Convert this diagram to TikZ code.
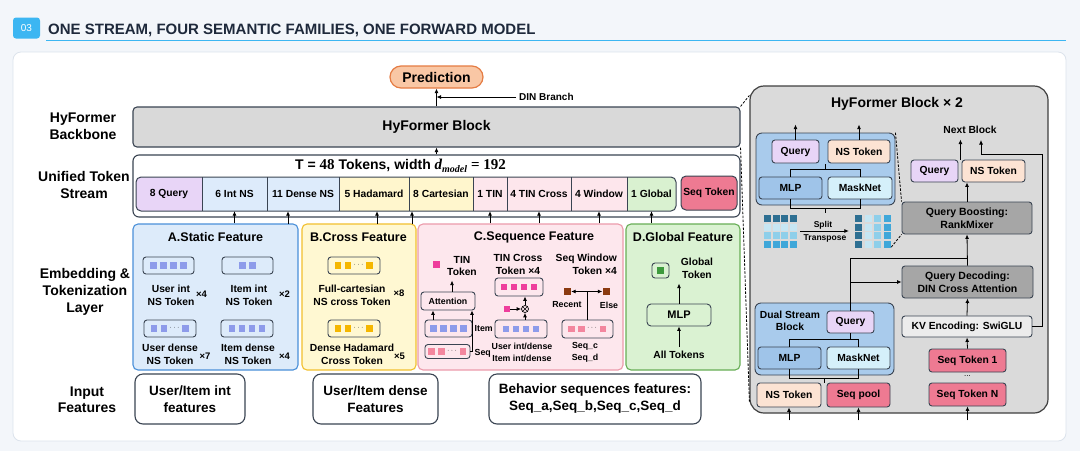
\documentclass[tikz,border=0pt]{standalone}
\usepackage[no-math]{fontspec}
\setmainfont{Liberation Sans}
\newfontfamily\srf{Liberation Serif}
\usetikzlibrary{arrows.meta,calc}
\definecolor{pagebg}{HTML}{F3F6FA}
\definecolor{panelbd}{HTML}{DCE3EC}
\definecolor{badge}{HTML}{3CB6F2}
\definecolor{ttlc}{HTML}{1E293B}
\definecolor{bd}{HTML}{3A4452}
\definecolor{predf}{HTML}{F9C7A5}
\definecolor{predd}{HTML}{E57C43}
\definecolor{gr}{HTML}{D9D9D9}
\definecolor{cq}{HTML}{E8D5F7}
\definecolor{cns}{HTML}{DDEBFB}
\definecolor{ccr}{HTML}{FFF6CD}
\definecolor{cseq}{HTML}{FDE6EC}
\definecolor{cgl}{HTML}{D9F1D0}
\definecolor{seqc}{HTML}{EE7A92}
\definecolor{faf}{HTML}{DDEBFA}
\definecolor{fad}{HTML}{4A90D9}
\definecolor{fbf}{HTML}{FFF8D2}
\definecolor{fbd}{HTML}{F2C02E}
\definecolor{fcf}{HTML}{FDE7ED}
\definecolor{fcd}{HTML}{EC9BAB}
\definecolor{fdf}{HTML}{DAF2D2}
\definecolor{fdd}{HTML}{67AE56}
\definecolor{blu}{HTML}{8D9BEA}
\definecolor{yel}{HTML}{F5B700}
\definecolor{mag}{HTML}{EE3D9C}
\definecolor{pnk}{HTML}{F3869E}
\definecolor{brn}{HTML}{8B3A10}
\definecolor{grn}{HTML}{3D9A3D}
\definecolor{rpf}{HTML}{DADADA}
\definecolor{rpd}{HTML}{404040}
\definecolor{bbf}{HTML}{A9CBEC}
\definecolor{mlpf}{HTML}{9FC4E9}
\definecolor{mskf}{HTML}{D5F0FA}
\definecolor{nsf}{HTML}{FCE3D3}
\definecolor{qbf}{HTML}{A6A6A6}
\definecolor{kvf}{HTML}{ECECEC}
\definecolor{mA}{HTML}{2D6F92}
\definecolor{mB}{HTML}{C6E6F3}
\definecolor{mC}{HTML}{8ECFEA}
\definecolor{mD}{HTML}{3FA7D9}
\newcommand\sqrow[4]{%
  \foreach \i in {1,...,#3} {\fill[#4] ({#1+(\i-(#3+1)/2)*10-3.25},{#2-3.25}) rectangle ++(6.5,6.5);}}
\newcommand\sqdots[3]{%
  \fill[#3] ({#1-19.5},{#2-3.25}) rectangle ++(6.5,6.5);
  \fill[#3] ({#1-9.5},{#2-3.25}) rectangle ++(6.5,6.5);
  \node[inner sep=0pt, font=\fontsize{7}{7}\selectfont] at ({#1+4.5},{#2-1}) {$\cdots$};
  \fill[#3] ({#1+12},{#2-3.25}) rectangle ++(6.5,6.5);}
\tikzset{
 bx/.style={draw=bd, line width=0.9pt, rounded corners=3pt, inner sep=0pt, align=center, font=\bfseries\fontsize{10.3}{12.5}\selectfont},
 arr/.style={-{Latex[length=4.5pt,width=4pt]}, line width=0.8pt},
 ln/.style={line width=0.8pt},
 lbl/.style={font=\bfseries\fontsize{14}{17}\selectfont, align=center, inner sep=0pt},
 tx/.style={font=\bfseries\fontsize{10.3}{13}\selectfont, align=center, inner sep=0pt},
 ts/.style={font=\bfseries\fontsize{8.8}{12}\selectfont, align=center, inner sep=0pt},
 mul/.style={font=\bfseries\fontsize{9.5}{10}\selectfont, inner sep=0pt},
 fbox/.style={line width=1.1pt, rounded corners=5pt, inner sep=0pt},
 cell/.style={inner sep=0pt, minimum height=34pt, font=\bfseries\fontsize{10.3}{12}\selectfont},
 dsh/.style={line width=0.8pt, dash pattern=on 2.5pt off 1.5pt},
}
\begin{document}
\begin{tikzpicture}[x=1pt,y=-1pt]
\useasboundingbox (0,0) rectangle (1080,451);
\fill[pagebg] (0,0) rectangle (1080,451);
% header
\node[fill=badge, rounded corners=3pt, minimum width=27pt, minimum height=21pt, inner sep=0pt, text=white, font=\fontsize{10}{11}\selectfont] (badge) at (26.5,28) {03};
\node[anchor=west, inner sep=0pt, text=ttlc, font=\bfseries\fontsize{15}{17}\selectfont] (title) at (48,30) {ONE STREAM, FOUR SEMANTIC FAMILIES, ONE FORWARD MODEL};
\draw[badge, line width=1.6pt] (46,40.5) -- (1066,40.5);
\fill[white, draw=panelbd, line width=0.8pt, rounded corners=8pt] (13,52) rectangle (1066,441);
% left labels
\node[lbl] (lbB) at (83,126) {HyFormer\\Backbone};
\node[lbl] (lbS) at (84,185) {Unified Token\\Stream};
\node[lbl] (lbE) at (85,292) {Embedding \&\\Tokenization\\Layer};
\node[lbl, font=\bfseries\fontsize{14}{16}\selectfont] (lbI) at (87,400) {Input\\Features};
% prediction & block
\node[bx, rounded corners=11pt, fill=predf, draw=predd, line width=1.2pt, minimum width=93pt, minimum height=22pt, font=\bfseries\fontsize{14}{16}\selectfont] (pred) at (436.5,77) {Prediction};
\node[bx, fill=gr, minimum width=607pt, minimum height=40pt, line width=1.1pt, rounded corners=4pt, font=\bfseries\fontsize{14}{16}\selectfont] (hyb) at (436.5,127) {HyFormer Block};
\draw[arr] (hyb.north) -- (pred.south);
\coordinate (dinS) at (516,97);
\draw[arr] (dinS) -- (dinS -| pred);
\node[anchor=west, inner sep=0pt, font=\bfseries\fontsize{10}{11}\selectfont] (dinL) at (519,97) {DIN Branch};
% token stream
\node[bx, fill=white, minimum width=607pt, minimum height=62pt, line width=1.1pt, rounded corners=6pt] (str) at (436.5,186) {};
\draw[arr] (str.north) -- (hyb.south);
\node[inner sep=0pt, font=\bfseries\fontsize{14}{16}\selectfont] (strT) at (400.5,166) {T = {\srf\fontsize{15}{16}\selectfont 48} Tokens, width {\srf\itshape\fontsize{15}{16}\selectfont d}\raisebox{-3pt}{\srf\itshape\fontsize{10}{11}\selectfont model} {\srf\fontsize{15}{16}\selectfont = 192}};
\begin{scope}
\clip[rounded corners=5pt] (136,177) rectangle (676,211);
\node[cell, fill=cq, minimum width=66pt] (cQuery) at (169,194) {8 Query};
\node[cell, fill=cns, minimum width=65pt] (cInt) at (234.5,194) {6 Int NS};
\node[cell, fill=cns, minimum width=72pt] (cDense) at (303,194) {11 Dense NS};
\node[cell, fill=ccr, minimum width=70pt] (cHad) at (374,194) {5 Hadamard};
\node[cell, fill=ccr, minimum width=64pt] (cCart) at (441,194) {8 Cartesian};
\node[cell, fill=cseq, minimum width=34pt] (cTIN) at (490,194) {1 TIN};
\node[cell, fill=cseq, minimum width=64pt] (cTINX) at (539,194) {4 TIN Cross};
\node[cell, fill=cseq, minimum width=56pt] (cWin) at (599,194) {4 Window};
\node[cell, fill=cgl, minimum width=49pt] (cGlob) at (651.5,194) {1 Global};
\end{scope}
\draw[line width=1pt, bd, rounded corners=5pt] (136,177) rectangle (676,211);
\foreach \x in {202,267,339,409,473,507,571,627} \draw[line width=1pt, bd] (\x,177) -- (\x,211);
\node[bx, fill=seqc, minimum width=56pt, minimum height=34pt, rounded corners=5pt, line width=1pt] (seqT) at (709,193) {Seq Token};
% feature boxes
\node[fbox, draw=fad, fill=faf, minimum width=165pt, minimum height=146pt] (fA) at (215.5,297) {};
\node[fbox, draw=fbd, fill=fbf, minimum width=114pt, minimum height=146pt] (fB) at (359,297) {};
\node[fbox, draw=fcd, fill=fcf, minimum width=205pt, minimum height=146pt] (fC) at (520.5,297) {};
\node[fbox, draw=fdd, fill=fdf, minimum width=114pt, minimum height=146pt] (fD) at (683,297) {};
\draw[arr] (fA.north -| cInt) -- (cInt.south);
\coordinate (aD) at (288,224); \draw[arr] (aD) -- (aD |- cDense.south);
\coordinate (aH) at (377,224); \draw[arr] (aH) -- (aH |- cHad.south);
\coordinate (aC) at (412,224); \draw[arr] (aC) -- (aC |- cCart.south);
\draw[arr] (fC.north -| cTIN) -- (cTIN.south);
\draw[arr] (fC.north -| cTINX) -- (cTINX.south);
\draw[arr] (fC.north -| cWin) -- (cWin.south);
\draw[arr] (fD.north -| cGlob) -- (cGlob.south);
\node[inner sep=0pt, font=\bfseries\fontsize{12.5}{14}\selectfont] (tA) at (215.5,237) {A.Static Feature};
\node[inner sep=0pt, font=\bfseries\fontsize{12.5}{14}\selectfont] (tB) at (358.5,237) {B.Cross Feature};
\node[inner sep=0pt, font=\bfseries\fontsize{12.5}{14}\selectfont] (tC) at (534,237) {C.Sequence Feature};
\node[inner sep=0pt, font=\bfseries\fontsize{12.5}{14}\selectfont] (tD) at (683,237) {D.Global Feature};
% A
\node[bx, fill=faf, minimum width=51pt, minimum height=17pt] (bA1) at (168.5,265.5) {}; \sqrow{168.5}{265.5}{4}{blu}
\node[bx, fill=faf, minimum width=51pt, minimum height=17pt] (bA2) at (247.5,265.5) {}; \sqrow{247.5}{265.5}{2}{blu}
\node[bx, fill=faf, minimum width=52pt, minimum height=17pt] (bA3) at (170,328.5) {}; \sqdots{170}{328.5}{blu}
\node[bx, fill=faf, minimum width=52pt, minimum height=17pt] (bA4) at (247,328.5) {}; \sqrow{247}{328.5}{4}{blu}
\node[tx] (lA1) at (171,295) {User int\\NS Token};
\node[mul] (xA1) at (201.5,294) {×4};
\node[tx] (lA2) at (249,295) {Item int\\NS Token};
\node[mul] (xA2) at (284.5,294) {×2};
\node[tx] (lA3) at (170,354) {User dense\\NS Token};
\node[mul] (xA3) at (205,356) {×7};
\node[tx] (lA4) at (248,354) {Item dense\\NS Token};
\node[mul] (xA4) at (284.5,356) {×4};
% B
\node[bx, fill=fbf, minimum width=52pt, minimum height=17pt] (bB1) at (354,265.5) {}; \sqdots{354}{265.5}{yel}
\node[bx, fill=fbf, minimum width=52pt, minimum height=17pt] (bB2) at (354,328.5) {}; \sqdots{354}{328.5}{yel}
\node[tx] (lB1) at (352,295) {Full-cartesian\\NS cross Token};
\node[mul] (xB1) at (399,293) {×8};
\node[tx] (lB2) at (352,354) {Dense Hadamard\\Cross Token};
\node[mul] (xB2) at (399.5,356) {×5};
% C
\node[fill=mag, minimum size=7pt, inner sep=0pt] (tinSq) at (436,264.5) {};
\node[tx] (tinL) at (462,266) {TIN\\Token};
\node[bx, fill=fcf, minimum width=54pt, minimum height=18pt, font=\bfseries\fontsize{8.8}{10}\selectfont] (attn) at (448,301) {Attention};
\draw[arr] ([xshift=4pt]attn.north) -- ++(0,-11);
\node[bx, fill=fcf, minimum width=47pt, minimum height=17pt] (bItem) at (448.5,328.5) {}; \sqrow{448.5}{328.5}{4}{blu}
\node[ts, anchor=west] (lItem) at (474.5,328.5) {Item};
\node[bx, fill=fcf, minimum width=45pt, minimum height=14pt] (bSeq) at (447.5,351.5) {}; \sqdots{447.5}{351.5}{pnk}
\node[ts, anchor=west] (lSeq) at (474.5,353) {Seq};
\draw[arr] ([xshift=-15.5pt]bItem.north) -- ([xshift=-15.5pt]bItem.north |- attn.south);
\draw[arr] (bSeq.east) -| ([xshift=24pt]attn.south);
\node[tx] (txL) at (518,264.5) {TIN Cross\\Token ×4};
\node[bx, fill=fcf, minimum width=48pt, minimum height=18pt] (bTX) at (519,287) {}; \sqrow{519}{287}{4}{mag}
\node[circle, draw, line width=0.7pt, minimum size=7pt, inner sep=0pt] (ot) at (525,309) {};
\draw[line width=0.6pt] (ot.north west) -- (ot.south east) (ot.north east) -- (ot.south west);
\node[fill=mag, minimum size=6.5pt, inner sep=0pt] (mSq) at (507,309) {};
\draw[arr] (mSq) -- (ot);
\draw[arr] (ot) -- (ot |- bTX.south);
\node[bx, fill=fcf, minimum width=52pt, minimum height=18pt] (bUI) at (521,329) {}; \sqrow{521}{329}{4}{blu}
\draw[arr] (bUI.north -| ot) -- (ot.south);
\node[ts] (uiL) at (522,352) {User int/dense\\Item int/dense};
\node[tx, align=right, anchor=east] (swL) at (617,264.5) {Seq Window\\Token ×4};
\node[fill=brn, minimum size=7pt, inner sep=0pt] (brL) at (567.5,291.5) {};
\node[fill=brn, minimum size=7pt, inner sep=0pt] (brR) at (606,291.5) {};
\node[bx, fill=fcf, minimum width=51pt, minimum height=18pt] (bSW) at (587.5,329) {}; \sqdots{587.5}{329}{pnk}
\coordinate (jn) at (bSW.north |- brL);
\draw[ln] (bSW.north) -- (jn);
\draw[arr] (jn) -- (brL); \draw[arr] (jn) -- (brR);
\node[ts] (rcL) at (567,305) {Recent};
\node[ts] (elL) at (609,305) {Else};
\node[ts] (scL) at (585,352) {Seq\_c\\Seq\_d};
% D
\node[bx, fill=fdf, minimum width=17pt, minimum height=15pt] (gI) at (660.5,270.5) {};
\node[fill=grn, minimum size=7pt, inner sep=0pt] (gSq) at (gI) {};
\node[tx] (gL) at (697,268) {Global\\Token};
\node[bx, fill=fdf, minimum width=64pt, minimum height=22pt, rounded corners=4pt, font=\bfseries\fontsize{11}{12}\selectfont] (mlpD) at (679,315) {MLP};
\draw[arr] (mlpD.north) -- ++(0,-20);
\node[tx] (allT) at (679,355) {All Tokens};
\draw[arr] ([yshift=4pt]allT.north) -- (mlpD.south);
% input features
\node[bx, fill=white, minimum width=110pt, minimum height=50pt, rounded corners=8pt, line width=1.1pt, font=\bfseries\fontsize{13.5}{17}\selectfont] (in1) at (190,399) {User/Item int\\features};
\node[bx, fill=white, minimum width=125pt, minimum height=50pt, rounded corners=8pt, line width=1.1pt, font=\bfseries\fontsize{13.5}{17}\selectfont] (in2) at (375.5,399) {User/Item dense\\Features};
\node[bx, fill=white, minimum width=212pt, minimum height=50pt, rounded corners=8pt, line width=1.1pt, font=\bfseries\fontsize{13.5}{17}\selectfont] (in3) at (595,399) {Behavior sequences features:\\Seq\_a,Seq\_b,Seq\_c,Seq\_d};
% right panel
\node[draw=rpd, fill=rpf, line width=1.2pt, rounded corners=14pt, minimum width=298pt, minimum height=327pt, inner sep=0pt] (rp) at (899,249.5) {};
\draw[dsh] (hyb.north east) -- ([yshift=-10pt]rp.north west);
\draw[dsh] (hyb.south east) -- ([yshift=12pt]rp.south west);
\node[inner sep=0pt, font=\bfseries\fontsize{14}{16}\selectfont] (rpT) at (897,104) {HyFormer Block × 2};
% top blue box
\node[bx, fill=bbf, minimum width=139pt, minimum height=72pt, rounded corners=6pt] (bb1) at (825.5,169) {};
\node[bx, fill=cq, minimum width=47pt, minimum height=23pt] (q1) at (795.5,151.5) {Query};
\node[bx, fill=nsf, minimum width=62pt, minimum height=23pt] (ns1) at (859,151.5) {NS Token};
\node[bx, fill=mlpf, minimum width=63pt, minimum height=22pt] (mlp1) at (790.5,188) {MLP};
\node[bx, fill=mskf, minimum width=64pt, minimum height=22pt] (mk1) at (860,188) {MaskNet};
\draw[arr] (q1.north) -- ++(0,-15);
\draw[arr] (ns1.north) -- ++(0,-15);
\draw[ln] (mlp1.north) -- ++(0,-7) -| (mk1.north);
\draw[ln] ($(mlp1.north)!0.5!(mk1.north)$) ++(0,-7) -- ++(0,-6);
\draw[ln] (mlp1.south) -- ++(0,9) -| (mk1.south);
\draw[ln] ($(mlp1.south)!0.5!(mk1.south)$) ++(0,9) -- ++(0,5);
\foreach \r/\c in {0/mA,1/mB,2/mC,3/mD} \foreach \k in {0,...,3} \fill[\c] ({764+\k*8.5},{215+\r*8.5}) rectangle ++(7,7);
\foreach \k/\c in {0/mA,1/mB,2/mC,3/mD} \foreach \r in {0,...,3} \fill[\c] ({855+\k*9.7},{215+\r*8.5}) rectangle ++(7,7);
\node[inner sep=0pt, minimum width=33pt, minimum height=32pt] (matL) at (780.5,231) {};
\node[inner sep=0pt, minimum width=36pt, minimum height=32pt] (matR) at (873,231) {};
\draw[arr] ([xshift=3pt]matL.east) -- ([xshift=-6pt]matR.west);
\node[inner sep=0pt, font=\bfseries\fontsize{8.5}{10}\selectfont] (splL) at (823,225) {Split};
\node[inner sep=0pt, font=\bfseries\fontsize{8.5}{10}\selectfont] (trL) at (825,238.5) {Transpose};
% right column
\node[tx] (nextB) at (970,130) {Next Block};
\node[bx, fill=cq, minimum width=47pt, minimum height=22pt] (q2) at (934.5,171) {Query};
\node[bx, fill=nsf, minimum width=63pt, minimum height=22pt] (ns2) at (993.5,171) {NS Token};
\node[bx, fill=qbf, minimum width=130pt, minimum height=32pt, font=\bfseries\fontsize{10.5}{13}\selectfont] (qb) at (967,218) {Query Boosting:\\RankMixer};
\node[bx, fill=qbf, minimum width=131pt, minimum height=32pt, font=\bfseries\fontsize{10.5}{13}\selectfont] (qd) at (967.5,282) {Query Decoding:\\DIN Cross Attention};
\node[bx, fill=kvf, minimum width=130pt, minimum height=21pt] (kv) at (967,326.5) {KV Encoding: SwiGLU};
\node[bx, fill=seqc, minimum width=77pt, minimum height=23pt] (s1) at (967.5,360.5) {Seq Token 1};
\node[inner sep=0pt, font=\fontsize{8}{8}\selectfont] (sdots) at (967.5,376) {...};
\node[bx, fill=seqc, minimum width=77pt, minimum height=23pt] (sN) at (967.5,394.5) {Seq Token N};
\draw[dsh] (bb1.north east) -- (qb.north west);
\draw[dsh] (matR.south east) -- (qb.south west);
\draw[arr] ([xshift=2pt]q2.north east) -- ++(0,-20);
\coordinate (elb) at (1042,154);
\coordinate (nb) at (981,140);
\draw[arr] (kv.east) -| (elb) -| (nb);
\draw[arr] (qb.north) -- (qb.north |- ns2.south);
\draw[arr] (qd.north) -- (qb.south);
\draw[arr] (kv.north) -- (qd.south);
\draw[arr] (s1.north) -- (kv.south);
\coordinate (bN) at ([yshift=-14pt]sN.south);
\draw[arr] (bN) -- (sN.south);
% dual stream block
\node[bx, fill=bbf, minimum width=139pt, minimum height=72pt, rounded corners=6pt] (bb2) at (824.5,339) {};
\node[tx, font=\bfseries\fontsize{10.3}{12.5}\selectfont] (dsL) at (790,321) {Dual Stream\\Block};
\node[bx, fill=cq, minimum width=47pt, minimum height=22pt] (q3) at (850.5,322) {Query};
\node[bx, fill=mlpf, minimum width=63pt, minimum height=22pt] (mlp3) at (789.5,358) {MLP};
\node[bx, fill=mskf, minimum width=63pt, minimum height=22pt] (mk3) at (858.5,358) {MaskNet};
\draw[ln] (mlp3.north) -- ++(0,-7) -| (mk3.north);
\draw[ln] (q3.south) -- ++(0,7);
\draw[ln] (mlp3.south) -- ++(0,9) -| (mk3.south);
\draw[ln] ($(mlp3.south)!0.5!(mk3.south)$) ++(0,9) -- ++(0,5);
\node[bx, fill=nsf, minimum width=64pt, minimum height=24pt] (ns3) at (789,395) {NS Token};
\node[bx, fill=seqc, minimum width=63pt, minimum height=24pt] (sp3) at (858.5,395) {Seq pool};
\coordinate (b1) at ([yshift=-13pt]ns3.south);
\coordinate (b2) at ([yshift=-13pt]sp3.south);
\draw[arr] (b1) -- (ns3.south);
\draw[arr] (b2) -- (sp3.south);
\coordinate (jq) at ([yshift=7pt]qd.north);
\draw[ln] (q3.north) |- (jq);
\draw[arr] (q3.north |- qd.west) -- (qd.west);
\end{tikzpicture}
\end{document}
